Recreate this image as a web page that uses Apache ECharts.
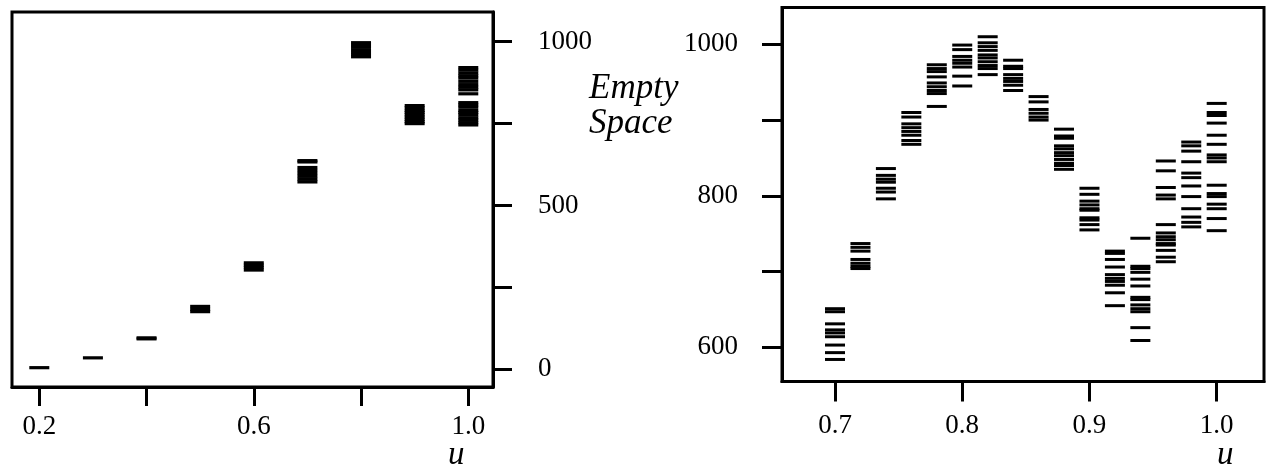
<!DOCTYPE html>
<html>
<head>
<meta charset="utf-8">
<script src="https://cdn.jsdelivr.net/npm/echarts@6/dist/echarts.min.js"></script>
<style>
  html, body { margin: 0; padding: 0; background: #fff; }
  #chart { width: 1270px; height: 466px; }
</style>
</head>
<body>
<div id="chart"></div>
<script>
// ---- Left panel data (u from 0.2 to 1.0) ----
const leftU = [0.2, 0.3, 0.4, 0.5, 0.6, 0.7, 0.8, 0.9, 1.0];
const leftValues = [
  [5],
  [35],
  [93, 96],
  [192, 183, 176],
  [325, 318, 311, 303],
  [637, 633, 616, 607, 598, 589, 580, 572],
  [997, 990, 983, 975, 968, 961, 954],
  [805, 798, 790, 784, 777, 770, 763, 756, 750],
  [921, 913, 904, 896, 889, 879, 869, 861, 853, 841, 814, 807, 800, 790, 784, 777, 768, 761, 753, 746]
];
const leftXTicks = [0.2, 0.4, 0.6, 0.8, 1.0];
const leftXLabels = [0.2, 0.6, 1.0];
const leftYTicks = [0, 250, 500, 750, 1000];
const leftYLabels = [0, 500, 1000];

// ---- Right panel data (u from 0.70 to 1.00) ----
const rightU = [0.70, 0.72, 0.74, 0.76, 0.78, 0.80, 0.82, 0.84, 0.86, 0.88, 0.90, 0.92, 0.94, 0.96, 0.98, 1.00];
const rightValues = [
  [651, 647, 631, 623, 619, 614, 603, 593, 584],
  [737, 732, 727, 716, 711, 707, 704],
  [836, 827, 822, 818, 810, 805, 796],
  [910, 904, 895, 890, 885, 880, 873, 868],
  [973, 968, 964, 957, 949, 944, 939, 935, 918],
  [999, 993, 984, 979, 975, 970, 958, 945],
  [1010, 1002, 997, 992, 986, 982, 977, 972, 968, 960],
  [979, 971, 968, 960, 955, 951, 946, 939],
  [931, 924, 914, 909, 904, 900],
  [888, 879, 876, 866, 862, 857, 853, 848, 843, 840, 835],
  [810, 802, 793, 788, 783, 781, 771, 768, 762, 755],
  [727, 724, 716, 706, 696, 691, 687, 682, 672, 655],
  [744, 707, 704, 699, 690, 681, 666, 663, 656, 651, 647, 626, 609],
  [846, 833, 811, 801, 796, 762, 751, 746, 742, 737, 735, 728, 719, 713],
  [871, 866, 859, 845, 830, 824, 813, 799, 783, 772, 765, 759],
  [922, 910, 906, 896, 880, 868, 854, 850, 845, 814, 803, 799, 789, 783, 770, 754]
];
const rightXTicks = [0.7, 0.8, 0.9, 1.0];
const rightXLabels = [0.7, 0.8, 0.9, 1.0];
const rightYTicks = [600, 700, 800, 900, 1000];
const rightYLabels = [600, 800, 1000];

const yTitle = 'Empty\nSpace';
const xTitle = 'u';

function pairs(us, vals) {
  const out = [];
  us.forEach((u, i) => vals[i].forEach(v => out.push([u, v])));
  return out;
}

const FONT = '"Liberation Serif", "DejaVu Serif", serif';
const tickStyle = { color: '#000', width: 3 };
const lineStyle = { color: '#000', width: 3 };

const chart = echarts.init(document.getElementById('chart'), null, { renderer: 'canvas' });
chart.setOption({
  animation: false,
  backgroundColor: '#fff',
  grid: [
    { left: 12, top: 12, width: 481, height: 375, show: true, borderColor: '#000', borderWidth: 3, backgroundColor: 'transparent', containLabel: false },
    { left: 782, top: 7.5, width: 482, height: 374, show: true, borderColor: '#000', borderWidth: 3, backgroundColor: 'transparent', containLabel: false }
  ],
  xAxis: [
    {
      type: 'value', gridIndex: 0, min: 0.1491, max: 1.0461,
      axisLine: { show: true, onZero: false, lineStyle },
      splitLine: { show: false },
      axisTick: { show: true, inside: false, length: 19, lineStyle: tickStyle, customValues: leftXTicks },
      axisLabel: { customValues: leftXLabels, formatter: v => Number(v).toFixed(1), color: '#000', fontFamily: FONT, fontSize: 27, margin: 26 }
    },
    {
      type: 'value', gridIndex: 1, min: 0.65834, max: 1.03718,
      axisLine: { show: true, onZero: false, lineStyle },
      splitLine: { show: false },
      axisTick: { show: true, inside: false, length: 20, lineStyle: tickStyle, customValues: rightXTicks },
      axisLabel: { customValues: rightXLabels, formatter: v => Number(v).toFixed(1), color: '#000', fontFamily: FONT, fontSize: 27, margin: 31 }
    }
  ],
  yAxis: [
    {
      type: 'value', gridIndex: 0, position: 'right', min: -54, max: 1090.7,
      axisLine: { show: true, onZero: false, lineStyle },
      splitLine: { show: false },
      axisTick: { show: true, inside: false, length: 19, lineStyle: tickStyle, customValues: leftYTicks },
      axisLabel: { customValues: leftYLabels, formatter: v => String(Math.round(v)), color: '#000', fontFamily: FONT, fontSize: 27, margin: 45 }
    },
    {
      type: 'value', gridIndex: 1, position: 'left', min: 554.9, max: 1048.6,
      axisLine: { show: true, onZero: false, lineStyle },
      splitLine: { show: false },
      axisTick: { show: true, inside: false, length: 20, lineStyle: tickStyle, customValues: rightYTicks },
      axisLabel: { customValues: rightYLabels, formatter: v => String(Math.round(v)), color: '#000', fontFamily: FONT, fontSize: 27, margin: 44 }
    }
  ],
  graphic: [
    { type: 'text', left: 589, top: 71, style: { text: yTitle, font: 'italic 35px ' + FONT, lineHeight: 35, fill: '#000' } },
    { type: 'text', left: 448, top: 439, style: { text: xTitle, font: 'italic 33px ' + FONT, fill: '#000' } },
    { type: 'text', left: 1217, top: 439, style: { text: xTitle, font: 'italic 33px ' + FONT, fill: '#000' } }
  ],
  series: [
    {
      type: 'scatter', xAxisIndex: 0, yAxisIndex: 0,
      symbol: 'rect', symbolSize: [20, 3.2],
      itemStyle: { color: '#000', opacity: 1 },
      emphasis: { disabled: true },
      data: pairs(leftU, leftValues)
    },
    {
      type: 'scatter', xAxisIndex: 1, yAxisIndex: 1,
      symbol: 'rect', symbolSize: [20, 3],
      itemStyle: { color: '#000', opacity: 1 },
      emphasis: { disabled: true },
      data: pairs(rightU, rightValues)
    }
  ]
});
</script>
</body>
</html>
